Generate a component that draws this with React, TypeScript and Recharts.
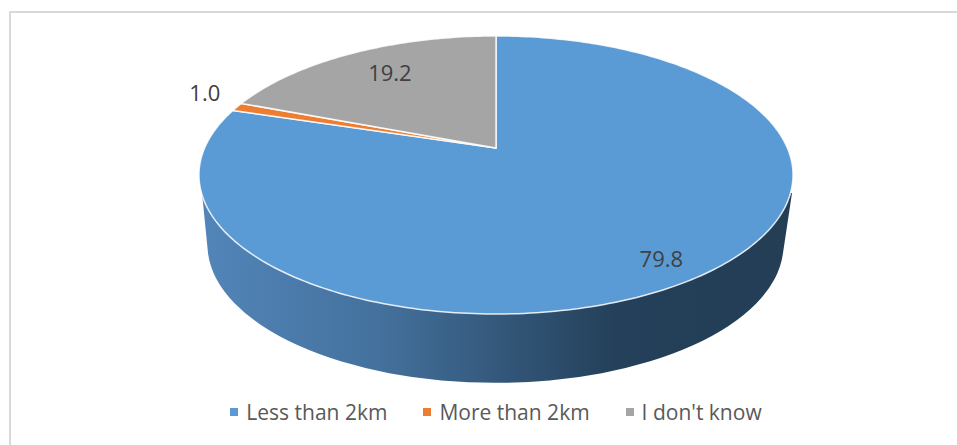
import { PieChart, Pie, Legend } from "recharts";

const categories = ["Less than 2km", "More than 2km", "I don't know"];
const shares = [79.8, 1.0, 19.2];
const colors = ["#5b9bd5", "#ed7d31", "#a5a5a5"];

const pieData = categories.map((name, i) => ({ name, value: shares[i], fill: colors[i] }));

const WIDTH = 957;
const HEIGHT = 445;
const CX = 496;
const CY = 148;
const RADIUS = 291.4;

// Tilt of the disc: the far side shrinks, the near side grows
const SQUASH = 133.8 / RADIUS;
const PERSPECTIVE = 0.194;
const RAD = Math.PI / 180;

const project = (cx: number, cy: number, r: number, angle: number) => {
  const u = Math.cos(angle * RAD);
  const v = Math.sin(angle * RAD);
  const w = 1 + (PERSPECTIVE * r * v) / RADIUS;
  return { x: cx + (r * u) / w, y: cy - (r * SQUASH * v) / w };
};

const wallPath =
  "M 202 193 L 208 253 A 288 138 0 0 0 783 253 L 792 193 Z";

const Slice = (props: any) => {
  const { cx, cy, outerRadius, startAngle, endAngle, fill, index } = props;
  const steps = Math.max(2, Math.ceil(Math.abs(endAngle - startAngle)));
  const points = [];
  for (let i = 0; i <= steps; i++) {
    const p = project(cx, cy, outerRadius, startAngle + ((endAngle - startAngle) * i) / steps);
    points.push(`${p.x.toFixed(2)} ${p.y.toFixed(2)}`);
  }
  const d = `M ${cx} ${cy} L ${points.join(" L ")} Z`;
  return (
    <g>
      {/* the side wall goes under the first slice so every face covers it */}
      {index === 0 && <path d={wallPath} fill="url(#wallFill)" />}
      <path d={d} fill={fill} stroke="#ffffff" strokeOpacity={0.85} strokeWidth={1.5} strokeLinejoin="round" />
    </g>
  );
};

// Label placement per slice: distance along the radius, then a small nudge
const labelPlacement = [
  { f: 0.85, dx: -4, dy: 4 },
  { f: 1.1, dx: -8, dy: -11 },
  { f: 0.7, dx: -2, dy: -7 },
];

const SliceLabel = (props: any) => {
  const { cx, cy, outerRadius, midAngle, value, index } = props;
  const place = labelPlacement[index];
  const p = project(cx, cy, outerRadius * place.f, midAngle);
  return (
    <text
      x={p.x + place.dx}
      y={p.y + place.dy}
      textAnchor="middle"
      dominantBaseline="central"
      fill="#404040"
      fontSize={22}
      fontFamily="'Open Sans', sans-serif"
    >
      {value.toFixed(1)}
    </text>
  );
};

const LegendRow = ({ payload }: any) => (
  <div style={{ display: "flex", justifyContent: "center", gap: 36, fontFamily: "'Open Sans', sans-serif" }}>
    {(payload || []).map((entry: any) => (
      <div key={entry.value} style={{ display: "flex", alignItems: "center", gap: 8, color: "#595959", fontSize: 21 }}>
        <span style={{ width: 8, height: 8, background: entry.color, display: "inline-block" }} />
        {entry.value}
      </div>
    ))}
  </div>
);

export default function App() {
  return (
    <div style={{ position: "absolute", left: 0, top: 0, width: WIDTH, height: HEIGHT, background: "#ffffff" }}>
      <div
        style={{
          position: "absolute",
          left: 9,
          top: 11,
          right: 0,
          bottom: 0,
          borderLeft: "2px solid #d9d9d9",
          borderTop: "2px solid #d9d9d9",
        }}
      />
      <PieChart
        width={WIDTH}
        height={HEIGHT}
        margin={{ top: 0, right: 0, bottom: 0, left: 0 }}
        style={{ position: "absolute", left: 0, top: 0 }}
      >
        <defs>
          <linearGradient id="wallFill" gradientUnits="userSpaceOnUse" x1="202" y1="0" x2="792" y2="0">
            <stop offset="0%" stopColor="#5285b9" />
            <stop offset="30%" stopColor="#44719d" />
            <stop offset="70%" stopColor="#24405a" />
            <stop offset="100%" stopColor="#233e55" />
          </linearGradient>
        </defs>
        <Pie
          data={pieData}
          dataKey="value"
          nameKey="name"
          cx={CX}
          cy={CY}
          outerRadius={RADIUS}
          startAngle={90}
          endAngle={-270}
          shape={Slice}
          label={SliceLabel}
          labelLine={false}
          isAnimationActive={false}
        />
        <Legend
          content={LegendRow}
          itemSorter={null}
          verticalAlign="bottom"
          wrapperStyle={{ left: 35, width: 922, top: 398 }}
        />
      </PieChart>
    </div>
  );
}
